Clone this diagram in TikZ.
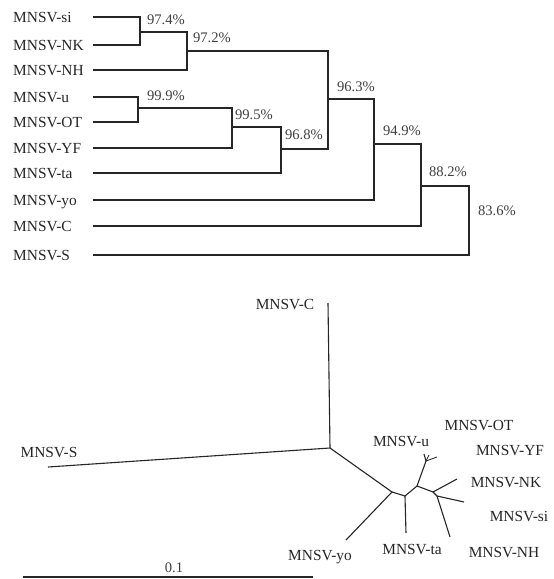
\documentclass[tikz,border=0pt]{standalone}
\usepackage{fontspec}
\setmainfont{Liberation Serif}
\usetikzlibrary{positioning}

\begin{document}
\begin{tikzpicture}[x=1pt, y=-1pt,
    branch/.style={line width=1.1pt, black!85, line join=miter},
    taxon/.style={font=\fontsize{15.4}{18}\selectfont, text=black!85, inner sep=0pt},
    pct/.style={font=\fontsize{14.6}{17}\selectfont, text=black!75, inner sep=0pt}]
    \useasboundingbox (0,0) rectangle (554,579);

    % Dendrogram: leaves
    \foreach \n/\t/\y in {si/MNSV-si/17, nk/MNSV-NK/45, nh/MNSV-NH/70,
        u/MNSV-u/97, ot/MNSV-OT/122, yf/MNSV-YF/148, ta/MNSV-ta/173,
        yo/MNSV-yo/200, c/MNSV-C/226, s/MNSV-S/255} {
        \node[taxon, anchor=base west] (lab-\n) at (13,{\y+5}) {\t};
        \coordinate (leaf-\n) at (93,\y);
    }

    % Dendrogram: joins
    \coordinate (n974) at (140,32);
    \coordinate (n972) at (187,51);
    \coordinate (n999) at (138,108);
    \coordinate (n995) at (232,127);
    \coordinate (n968) at (281,149);
    \coordinate (n963) at (328,99);
    \coordinate (n949) at (374,144);
    \coordinate (n882) at (421,186);
    \coordinate (n836) at (469,220);

    \draw[branch] (leaf-si) -| (n974) |- (leaf-nk);
    \draw[branch] (n974) -| (n972) |- (leaf-nh);
    \draw[branch] (leaf-u) -| (n999) |- (leaf-ot);
    \draw[branch] (n999) -| (n995) |- (leaf-yf);
    \draw[branch] (n995) -| (n968) |- (leaf-ta);
    \draw[branch] (n972) -| (n963) |- (n968);
    \draw[branch] (n963) -| (n949) |- (leaf-yo);
    \draw[branch] (n949) -| (n882) |- (leaf-c);
    \draw[branch] (n882) -| (n836) |- (leaf-s);

    % Dendrogram: support values
    \node[pct] (p974) at (166,20) {97.4\%};
    \node[pct] (p972) at (212,38) {97.2\%};
    \node[pct] (p999) at (166,96) {99.9\%};
    \node[pct] (p995) at (254,115) {99.5\%};
    \node[pct] (p968) at (304,135) {96.8\%};
    \node[pct] (p963) at (356,87) {96.3\%};
    \node[pct] (p949) at (402,131) {94.9\%};
    \node[pct] (p882) at (448,172) {88.2\%};
    \node[pct] (p836) at (497,211) {83.6\%};

    % Unrooted tree: nodes
    \coordinate (r0) at (330,448);
    \coordinate (r1) at (392,492);
    \coordinate (r2) at (405,496);
    \coordinate (r3) at (417,486);
    \coordinate (r4) at (426,461);
    \coordinate (r5) at (433,492);
    \coordinate (r6) at (437,496);
    \coordinate (tip-c) at (328,303);
    \coordinate (tip-s) at (48,467);
    \coordinate (tip-yo) at (346,540);
    \coordinate (tip-ta) at (406,533);
    \coordinate (tip-u) at (424,454);
    \coordinate (tip-ot) at (429,455);
    \coordinate (tip-yf) at (437,457);
    \coordinate (tip-nk) at (457,479);
    \coordinate (tip-si) at (464,502);
    \coordinate (tip-nh) at (450,537);

    \draw[branch] (tip-c) -- (r0) -- (tip-s);
    \draw[branch] (r0) -- (r1) -- (tip-yo);
    \draw[branch] (r1) -- (r2) -- (tip-ta);
    \draw[branch] (r2) -- (r3) -- (r4) -- (tip-u);
    \draw[branch, line width=0.8pt] (r4) -- (tip-ot);
    \draw[branch, line width=0.8pt] (r4) -- (tip-yf);
    \draw[branch] (r3) -- (r5) -- (tip-nk);
    \draw[branch] (r5) -- (r6) -- (tip-si);
    \draw[branch] (r6) -- (tip-nh);

    % Unrooted tree: labels
    \node[taxon] (u-c) at (285,305) {MNSV-C};
    \node[taxon] (u-s) at (49,453) {MNSV-S};
    \node[taxon] (u-ot) at (479,426) {MNSV-OT};
    \node[taxon] (u-u) at (401,442) {MNSV-u};
    \node[taxon] (u-yf) at (510,451) {MNSV-YF};
    \node[taxon] (u-nk) at (506,483) {MNSV-NK};
    \node[taxon] (u-si) at (519,517) {MNSV-si};
    \node[taxon] (u-nh) at (504,553) {MNSV-NH};
    \node[taxon] (u-ta) at (412,550) {MNSV-ta};
    \node[taxon] (u-yo) at (320,557) {MNSV-yo};

    % Scale bar
    \coordinate (bar-l) at (23,577);
    \coordinate (bar-r) at (313,577);
    \draw[line width=1.6pt, black!85] (bar-l) -- (bar-r);
    \node[pct] (bar-lab) at (174,568) {0.1};
\end{tikzpicture}
\end{document}
